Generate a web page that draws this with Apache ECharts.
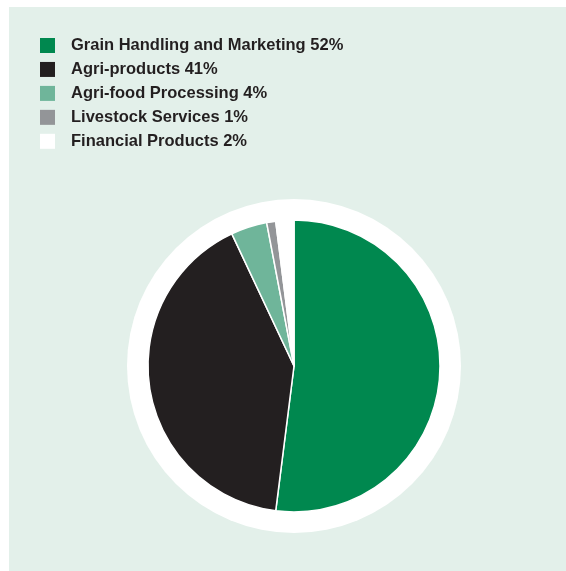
<!DOCTYPE html>
<html>
<head>
<meta charset="utf-8">
<script src="https://cdn.jsdelivr.net/npm/echarts@6/dist/echarts.min.js"></script>
<style>
  html, body { margin: 0; padding: 0; background: #ffffff; }
  #chart { position: absolute; left: 9px; top: 7px; width: 557px; height: 564px; background: #e3f0ea; }
</style>
</head>
<body>
<div id="chart"></div>
<script>
// Revenue share by business segment (percent)
const segments = ['Grain Handling and Marketing', 'Agri-products', 'Agri-food Processing', 'Livestock Services', 'Financial Products'];
const shares = [52, 41, 4, 1, 2];
const colors = ['#00884f', '#231f20', '#6fb59a', '#939598', '#ffffff'];

const chart = echarts.init(document.getElementById('chart'), null, { renderer: 'canvas' });
const pieData = segments.map((name, i) => ({ name: name, value: shares[i], itemStyle: { color: colors[i] } }));
const shareOf = Object.fromEntries(segments.map((n, i) => [n, shares[i]]));

chart.setOption({
  backgroundColor: '#e3f0ea',
  animation: false,
  legend: {
    data: segments,
    orient: 'vertical',
    left: 31,
    top: 30,
    padding: 0,
    itemWidth: 15,
    itemHeight: 15,
    itemGap: 6.95,
    icon: 'rect',
    selectedMode: false,
    itemStyle: { borderWidth: 0 },
    formatter: name => name + ' ' + shareOf[name] + '%',
    textStyle: {
      fontFamily: '"Liberation Sans", Arial, sans-serif',
      fontWeight: 'bold',
      fontSize: 16.5,
      lineHeight: 15,
      color: '#231f20',
      padding: [0, 0, 0, 11]
    }
  },
  series: [
    {
      // white backing disc around the pie
      type: 'pie',
      silent: true,
      center: [285, 359],
      radius: [0, 167],
      z: 1,
      label: { show: false },
      labelLine: { show: false },
      itemStyle: { color: '#ffffff' },
      data: [{ name: 'ring', value: 1 }],
      legendHoverLink: false
    },
    {
      type: 'pie',
      center: [285, 359],
      radius: [0, 146],
      startAngle: 90,
      clockwise: true,
      z: 2,
      label: { show: false },
      labelLine: { show: false },
      itemStyle: { borderColor: '#ffffff', borderWidth: 1.5 },
      emphasis: { disabled: true },
      data: pieData
    }
  ]
});
</script>
</body>
</html>
